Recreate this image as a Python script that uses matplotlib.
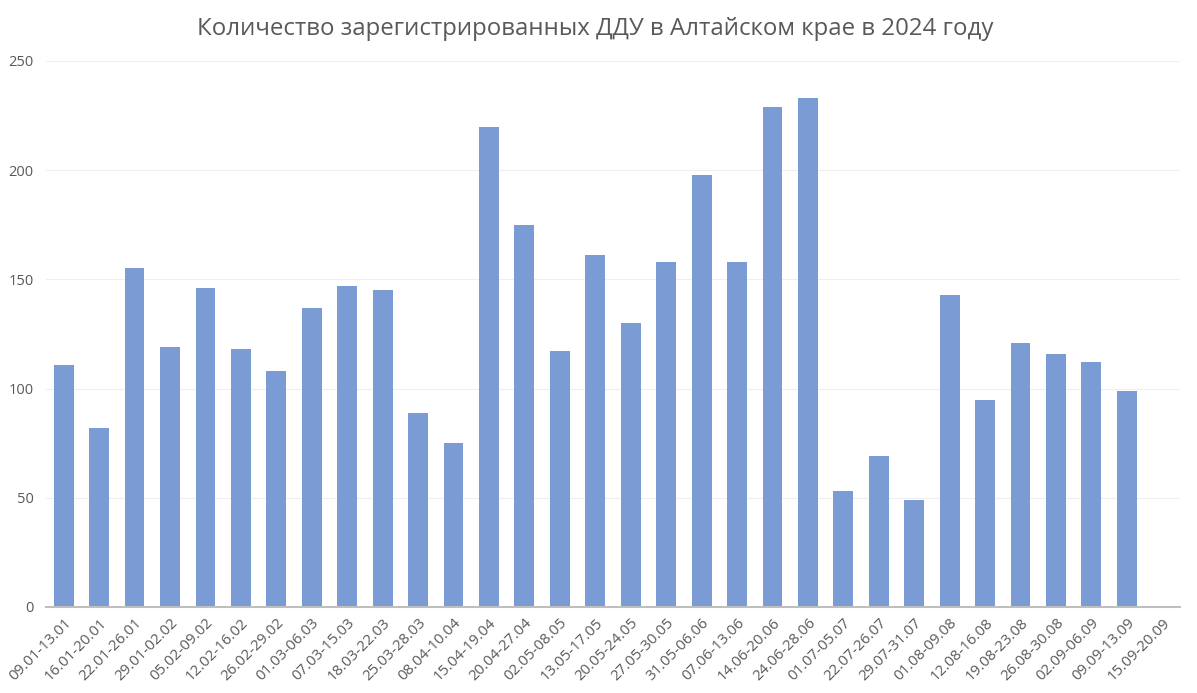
import matplotlib
matplotlib.use("Agg")
import matplotlib.pyplot as plt

categories = ["09.01-13.01", "16.01-20.01", "22.01-26.01", "29.01-02.02", "05.02-09.02",
              "12.02-16.02", "26.02-29.02", "01.03-06.03", "07.03-15.03", "18.03-22.03",
              "25.03-28.03", "08.04-10.04", "15.04-19.04", "20.04-27.04", "02.05-08.05",
              "13.05-17.05", "20.05-24.05", "27.05-30.05", "31.05-06.06", "07.06-13.06",
              "14.06-20.06", "24.06-28.06", "01.07-05.07", "22.07-26.07", "29.07-31.07",
              "01.08-09.08", "12.08-16.08", "19.08-23.08", "26.08-30.08", "02.09-06.09",
              "09.09-13.09", "15.09-20.09"]
values = [111, 82, 155, 119, 146, 118, 108, 137, 147, 145, 89, 75, 220, 175, 117,
          161, 130, 158, 198, 158, 229, 233, 53, 69, 49, 143, 95, 121, 116, 112, 99, 0]
yticks = [0, 50, 100, 150, 200, 250]

plt.rcParams['font.family'] = ['Open Sans', 'DejaVu Sans']
txt = '#595959'

fig = plt.figure(figsize=(11.97, 6.93), dpi=100)
ax = fig.add_axes([0.0384, 0.1241, 0.9474, 0.7879])
x = list(range(len(categories)))
ax.bar(x, values, width=0.56, color='#7A9BD3', zorder=2)
ax.set_xlim(-0.5, len(categories) - 0.5)
ax.set_ylim(0, 250)
ax.set_yticks(yticks)
ax.set_yticklabels([str(v) for v in yticks], color=txt, fontsize=10.5)
ax.set_xticks(x)
ax.set_xticklabels(categories, rotation=45, ha='right', rotation_mode='anchor',
                   color=txt, fontsize=10.8)
ax.tick_params(axis='both', length=0)
ax.tick_params(axis='x', pad=6)
ax.tick_params(axis='y', pad=9)
ax.grid(axis='y', color='#EFEFEF', linewidth=0.8, zorder=0)
for s in ['top', 'right', 'left']:
    ax.spines[s].set_visible(False)
ax.spines['bottom'].set_color('#BFBFBF')
ax.spines['bottom'].set_linewidth(1.5)
ax.spines['bottom'].set_zorder(3)
fig.text(0.497, 0.958, "Количество зарегистрированных ДДУ в Алтайском крае в 2024 году",
         ha='center', va='center', fontsize=17.3, color=txt)
fig.savefig('out.png', dpi=100)
